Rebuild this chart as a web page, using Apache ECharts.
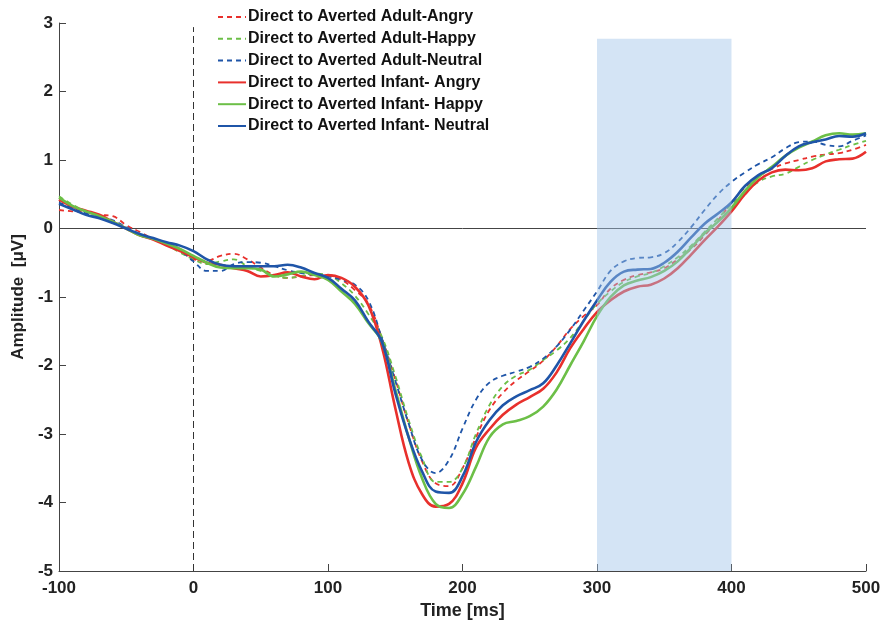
<!DOCTYPE html>
<html>
<head>
<meta charset="utf-8">
<script src="https://cdn.jsdelivr.net/npm/echarts@6/dist/echarts.min.js"></script>
<style>
html,body{margin:0;padding:0;background:#fff;}
#chart{width:886px;height:631px;}
</style>
</head>
<body>
<div id="chart"></div>
<script>
var timeMs = [-100,-90,-80,-70,-60,-50,-40,-30,-20,-10,0,10,20,30,40,50,60,70,80,90,100,110,120,130,140,150,160,170,180,190,200,210,220,230,240,250,260,270,280,290,300,310,320,330,340,350,360,370,380,390,400,410,420,430,440,450,460,470,480,490,500];

var adultAngry = [0.27,0.25,0.24,0.2,0.18,0.05,-0.05,-0.15,-0.22,-0.3,
  -0.45,-0.47,-0.4,-0.37,-0.45,-0.57,-0.68,-0.72,-0.7,-0.68,
  -0.68,-0.75,-0.9,-1.1,-1.6,-2.2,-2.85,-3.4,-3.72,-3.76,
  -3.5,-3.05,-2.65,-2.4,-2.22,-2.08,-1.93,-1.72,-1.47,-1.28,
  -1.12,-0.88,-0.75,-0.68,-0.64,-0.58,-0.45,-0.3,-0.1,0.12,
  0.38,0.6,0.76,0.87,0.95,1.0,1.05,1.08,1.1,1.15,1.22];
var adultHappy = [0.47,0.35,0.25,0.18,0.1,0.0,-0.1,-0.16,-0.24,-0.35,
  -0.45,-0.52,-0.48,-0.45,-0.55,-0.62,-0.68,-0.72,-0.7,-0.66,
  -0.68,-0.8,-0.98,-1.25,-1.58,-2.15,-2.8,-3.35,-3.7,-3.7,
  -3.5,-3.0,-2.58,-2.3,-2.15,-2.06,-1.92,-1.78,-1.6,-1.35,
  -1.1,-0.92,-0.78,-0.7,-0.65,-0.55,-0.42,-0.25,-0.05,0.15,
  0.35,0.52,0.68,0.76,0.8,0.9,1.0,1.08,1.15,1.22,1.28];
var adultNeutral = [0.38,0.3,0.22,0.15,0.12,0.02,-0.08,-0.15,-0.22,-0.32,
  -0.48,-0.62,-0.62,-0.52,-0.49,-0.5,-0.55,-0.61,-0.65,-0.68,
  -0.7,-0.75,-0.82,-1.05,-1.6,-2.22,-2.85,-3.38,-3.57,-3.38,
  -2.92,-2.5,-2.25,-2.15,-2.09,-2.02,-1.9,-1.72,-1.48,-1.2,
  -0.92,-0.62,-0.48,-0.43,-0.42,-0.36,-0.2,0.02,0.27,0.5,
  0.68,0.82,0.94,1.04,1.17,1.26,1.27,1.22,1.2,1.28,1.36];
var infantAngry = [0.42,0.32,0.26,0.2,0.1,0.0,-0.1,-0.16,-0.25,-0.33,
  -0.42,-0.5,-0.53,-0.58,-0.62,-0.7,-0.68,-0.64,-0.7,-0.74,
  -0.68,-0.72,-0.85,-1.12,-1.72,-2.62,-3.42,-3.88,-4.06,-4.02,
  -3.72,-3.2,-2.93,-2.72,-2.57,-2.46,-2.34,-2.1,-1.75,-1.47,
  -1.22,-1.05,-0.92,-0.85,-0.82,-0.73,-0.58,-0.38,-0.17,0.03,
  0.25,0.5,0.7,0.82,0.86,0.85,0.88,0.98,1.01,1.02,1.12];
var infantHappy = [0.45,0.33,0.25,0.18,0.1,0.0,-0.1,-0.15,-0.22,-0.3,
  -0.4,-0.5,-0.57,-0.58,-0.58,-0.6,-0.7,-0.67,-0.63,-0.68,
  -0.75,-0.92,-1.1,-1.38,-1.65,-2.35,-3.05,-3.65,-4.02,-4.08,
  -3.88,-3.48,-3.05,-2.86,-2.81,-2.74,-2.6,-2.35,-2.0,-1.65,
  -1.28,-1.0,-0.83,-0.76,-0.71,-0.62,-0.48,-0.28,-0.07,0.1,
  0.3,0.55,0.75,0.9,1.06,1.18,1.27,1.36,1.39,1.37,1.39];
var infantNeutral = [0.36,0.28,0.2,0.15,0.08,0.0,-0.08,-0.14,-0.2,-0.25,
  -0.33,-0.45,-0.53,-0.55,-0.55,-0.55,-0.55,-0.53,-0.57,-0.65,
  -0.72,-0.88,-1.05,-1.36,-1.65,-2.4,-3.05,-3.55,-3.84,-3.86,
  -3.62,-3.12,-2.8,-2.58,-2.45,-2.36,-2.26,-2.0,-1.68,-1.35,
  -1.05,-0.78,-0.63,-0.6,-0.59,-0.5,-0.34,-0.13,0.07,0.22,
  0.38,0.62,0.78,0.88,1.06,1.2,1.26,1.3,1.35,1.34,1.39];

var seriesNames = ['Direct to Averted Adult-Angry','Direct to Averted Adult-Happy','Direct to Averted Adult-Neutral',
  'Direct to Averted Infant- Angry','Direct to Averted Infant- Happy','Direct to Averted Infant- Neutral'];
var seriesValues = [adultAngry, adultHappy, adultNeutral, infantAngry, infantHappy, infantNeutral];
var seriesColors = ['#e8302c','#6cbf47','#1f55a8','#e8302c','#6cbf47','#1f55a8'];
var seriesDashed = [true,true,true,false,false,false];

var shadeX = [300, 400];
var shadeTop = 2.77;
var stimulusX = 0;
var stimulusTop = 2.94;
var xRange = [-100, 500];
var yRange = [-5, 3];

var FONT = 'Liberation Sans, Arial, sans-serif';

function pairs(vals){ return timeMs.map(function(t,i){ return [t, vals[i]]; }); }

var series = [];
series.push({
  type:'line', name:'zero', silent:true, symbol:'none', z:1,
  data:[[xRange[0],0],[xRange[1],0]],
  lineStyle:{color:'#444', width:1}
});
series.push({
  type:'line', name:'onset', silent:true, symbol:'none', z:1,
  data:[[stimulusX,yRange[0]],[stimulusX,stimulusTop]],
  lineStyle:{color:'#333', width:1, type:[7,4]}
});
seriesNames.forEach(function(n,i){
  series.push({
    type:'line', name:n, data:pairs(seriesValues[i]), symbol:'none', smooth:0.4,
    z: seriesDashed[i] ? 2 : 3,
    lineStyle:{color:seriesColors[i], width: seriesDashed[i] ? 1.8 : 2.6, type: seriesDashed[i] ? [5,4] : 'solid'},
    itemStyle:{color:seriesColors[i]}
  });
});
series.push({
  type:'custom', name:'window', silent:true, z:10,
  data:[[shadeX[0], shadeX[1], yRange[0], shadeTop]],
  renderItem:function(params, api){
    var p0 = api.coord([api.value(0), api.value(3)]);
    var p1 = api.coord([api.value(1), api.value(2)]);
    return {type:'rect', shape:{x:p0[0], y:p0[1], width:p1[0]-p0[0], height:p1[1]-p0[1]},
      style:{fill:'rgba(160,196,232,0.45)'}};
  }
});

var chart = echarts.init(document.getElementById('chart'));
chart.setOption({
  animation:false,
  backgroundColor:'#fff',
  grid:{left:59, right:20, top:23, bottom:60},
  legend:{
    data:seriesNames, orient:'vertical', left:212, top:4,
    itemWidth:28, itemHeight:14, itemGap:5.8,
    itemStyle:{opacity:0},
    textStyle:{fontFamily:FONT, fontWeight:'bold', fontSize:16, lineHeight:16, color:'#111', padding:[0,0,0,-3]},
    selectedMode:false
  },
  xAxis:{
    type:'value', min:xRange[0], max:xRange[1], interval:100,
    name:'Time [ms]', nameLocation:'middle', nameGap:22,
    nameTextStyle:{fontFamily:FONT, fontWeight:'bold', fontSize:18, color:'#222'},
    axisLine:{show:true, onZero:false, lineStyle:{color:'#444', width:1}},
    axisTick:{show:true, inside:true, length:7, lineStyle:{color:'#444'}},
    axisLabel:{fontFamily:FONT, fontWeight:'bold', fontSize:17, color:'#222', margin:9},
    splitLine:{show:false}
  },
  yAxis:{
    type:'value', min:yRange[0], max:yRange[1], interval:1,
    name:'Amplitude  [μV]', nameLocation:'middle', nameGap:31, nameRotate:90,
    nameTextStyle:{fontFamily:FONT, fontWeight:'bold', fontSize:17, color:'#222'},
    axisLine:{show:true, onZero:false, lineStyle:{color:'#444', width:1}},
    axisTick:{show:true, inside:true, length:7, lineStyle:{color:'#444'}},
    axisLabel:{fontFamily:FONT, fontWeight:'bold', fontSize:17, color:'#222', margin:6},
    splitLine:{show:false}
  },
  series:series
});
</script>
</body>
</html>
